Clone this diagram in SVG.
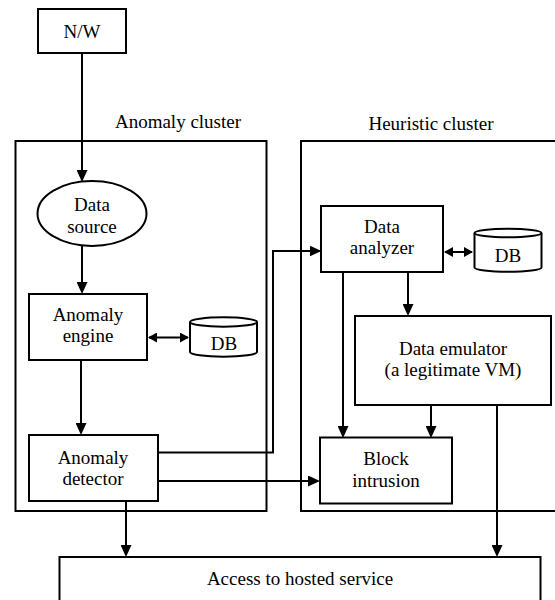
<svg xmlns="http://www.w3.org/2000/svg" width="555" height="600" viewBox="0 0 555 600">
<style>
.box{fill:#fff;stroke:#000;stroke-width:2}
.clu{fill:none;stroke:#000;stroke-width:2}
.ln{fill:none;stroke:#000;stroke-width:2}
text{font-family:"Liberation Serif","Times New Roman",serif;font-size:19px;fill:#000;text-anchor:middle}
</style>
<defs>
<marker id="arr" viewBox="0 0 12 11" refX="10" refY="5.5" markerWidth="12" markerHeight="11" markerUnits="userSpaceOnUse" orient="auto">
<path d="M0,0 L12,5.5 L0,11 Z" fill="#000"/>
</marker>
<marker id="arrs" viewBox="0 0 9 10" refX="8" refY="5" markerWidth="9" markerHeight="10" markerUnits="userSpaceOnUse" orient="auto-start-reverse">
<path d="M0,0 L9,5 L0,10 Z" fill="#000"/>
</marker>
</defs>
<rect width="555" height="600" fill="#fff"/>

<g id="anomaly-cluster">
<rect class="clu" x="15.5" y="141" width="251" height="370"/>
<text x="178" y="128">Anomaly cluster</text>
</g>
<g id="heuristic-cluster">
<rect class="clu" x="301" y="141" width="260" height="370"/>
<text x="431" y="130">Heuristic cluster</text>
</g>

<g id="connectors">
<line class="ln" x1="82" y1="53" x2="82" y2="180" marker-end="url(#arr)"/>
<line class="ln" x1="82" y1="246" x2="82" y2="292" marker-end="url(#arr)"/>
<line class="ln" x1="81" y1="360" x2="81" y2="433" marker-end="url(#arr)"/>
<line class="ln" x1="149" y1="337.5" x2="188" y2="337.5" marker-start="url(#arrs)" marker-end="url(#arrs)"/>
<polyline class="ln" points="158,452.5 273,452.5 273,251 319.5,251" marker-end="url(#arr)"/>
<line class="ln" x1="158" y1="481" x2="318" y2="481" marker-end="url(#arr)"/>
<line class="ln" x1="126" y1="501" x2="126" y2="555" marker-end="url(#arr)"/>
<line class="ln" x1="445" y1="252" x2="472" y2="252" marker-start="url(#arrs)" marker-end="url(#arrs)"/>
<line class="ln" x1="343" y1="272" x2="343" y2="436" marker-end="url(#arr)"/>
<line class="ln" x1="408" y1="272" x2="408" y2="314" marker-end="url(#arr)"/>
<line class="ln" x1="431" y1="405" x2="431" y2="436" marker-end="url(#arr)"/>
<line class="ln" x1="497" y1="405" x2="497" y2="555" marker-end="url(#arr)"/>
</g>

<g id="nw">
<rect class="box" x="38" y="9" width="88" height="44"/>
<text x="82" y="38">N/W</text>
</g>
<g id="data-source">
<ellipse class="box" cx="92" cy="213.5" rx="54.5" ry="32.5"/>
<text x="92" y="211">Data</text>
<text x="92" y="233">source</text>
</g>
<g id="anomaly-engine">
<rect class="box" x="29" y="294" width="118" height="66"/>
<text x="88" y="321">Anomaly</text>
<text x="88" y="342">engine</text>
</g>
<g id="db1">
<path class="box" d="M190,322 L190,352 A33.5,4.7 0 0 0 257,352 L257,322"/>
<ellipse class="box" cx="223.5" cy="322" rx="33.5" ry="4.7"/>
<text x="224" y="350">DB</text>
</g>
<g id="anomaly-detector">
<rect class="box" x="29" y="435" width="129" height="66"/>
<text x="93" y="464">Anomaly</text>
<text x="93" y="485">detector</text>
</g>
<g id="data-analyzer">
<rect class="box" x="321" y="206" width="122" height="66"/>
<text x="382" y="233">Data</text>
<text x="382" y="254">analyzer</text>
</g>
<g id="db2">
<path class="box" d="M474.5,233 L474.5,267.5 A33.5,4.3 0 0 0 541.5,267.5 L541.5,233"/>
<ellipse class="box" cx="508" cy="233" rx="33.5" ry="4.3"/>
<text x="508" y="262">DB</text>
</g>
<g id="data-emulator">
<rect class="box" x="355" y="316" width="196" height="89"/>
<text x="453" y="355">Data emulator</text>
<text x="453" y="376">(a legitimate VM)</text>
</g>
<g id="block-intrusion">
<rect class="box" x="320" y="437.5" width="132" height="66"/>
<text x="386" y="465">Block</text>
<text x="386" y="487">intrusion</text>
</g>
<g id="access">
<rect class="box" x="59.5" y="557" width="481" height="60"/>
<text x="300" y="585">Access to hosted service</text>
</g>
</svg>
